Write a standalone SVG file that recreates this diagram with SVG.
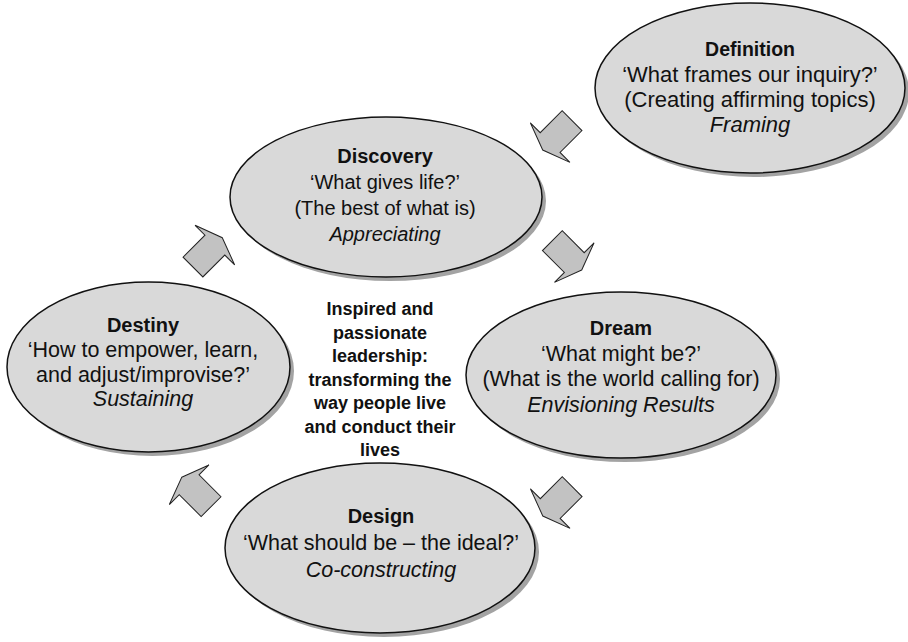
<svg xmlns="http://www.w3.org/2000/svg" width="908" height="642" viewBox="0 0 908 642">
<defs>
<style>
.sh{fill:#a3a3a3;stroke:none}
.el{fill:#d9d9d9;stroke:#111;stroke-width:1.5}
.t{font-family:"Liberation Sans",Arial,Helvetica,sans-serif;font-size:20px;fill:#111;text-anchor:middle}
.b{font-weight:bold}
.i{font-style:italic}
.c{font-family:"Liberation Sans",Arial,Helvetica,sans-serif;font-size:18px;font-weight:bold;fill:#111;text-anchor:middle}
.ar{fill:#c2c2c2;stroke:#222;stroke-width:1;stroke-linejoin:miter}
</style>
<path id="arrow" d="M0,0 L-10.5,28 L-10.5,14 L-41.5,14 L-41.5,-14 L-10.5,-14 L-10.5,-28 Z"/>
</defs>
<rect width="908" height="642" fill="#fff"/>
<g id="connectors">
<use href="#arrow" class="ar" transform="translate(542.7,150) rotate(135)"/>
<use href="#arrow" class="ar" transform="translate(581.7,270) rotate(45)"/>
<use href="#arrow" class="ar" transform="translate(542.8,516) rotate(135)"/>
<use href="#arrow" class="ar" transform="translate(181.7,477.3) rotate(-135)"/>
<use href="#arrow" class="ar" transform="translate(222.3,237.7) rotate(-45)"/>
</g>
<g id="definition">
<ellipse class="sh" cx="754" cy="92" rx="155" ry="85"/>
<ellipse class="el" cx="750" cy="88" rx="155" ry="85"/>
<text class="t b" x="750" y="56" style="font-size:19.5px">Definition</text>
<text class="t" x="750" y="82" style="font-size:22px">‘What frames our inquiry?’</text>
<text class="t" x="750" y="107" style="font-size:22px">(Creating affirming topics)</text>
<text class="t i" x="750" y="132" style="font-size:22px">Framing</text>
</g>
<g id="discovery">
<ellipse class="sh" cx="390" cy="201" rx="156" ry="80"/>
<ellipse class="el" cx="386" cy="197" rx="156" ry="80"/>
<text class="t b" x="385" y="163">Discovery</text>
<text class="t" x="385" y="189">‘What gives life?’</text>
<text class="t" x="385" y="215">(The best of what is)</text>
<text class="t i" x="385" y="241">Appreciating</text>
</g>
<g id="dream">
<ellipse class="sh" cx="625" cy="379" rx="155" ry="83"/>
<ellipse class="el" cx="621" cy="375" rx="155" ry="83"/>
<text class="t b" x="621" y="335">Dream</text>
<text class="t" x="621" y="361" style="font-size:21.5px">‘What might be?’</text>
<text class="t" x="621" y="386" style="font-size:21.5px">(What is the world calling for)</text>
<text class="t i" x="621" y="412" style="font-size:21.5px">Envisioning Results</text>
</g>
<g id="design">
<ellipse class="sh" cx="384" cy="552" rx="155" ry="85"/>
<ellipse class="el" cx="380" cy="548" rx="155" ry="85"/>
<text class="t b" x="381" y="523">Design</text>
<text class="t" x="381" y="550" style="font-size:21.5px">‘What should be – the ideal?’</text>
<text class="t i" x="381" y="577" style="font-size:21.5px">Co-constructing</text>
</g>
<g id="destiny">
<ellipse class="sh" cx="152.5" cy="371" rx="141.5" ry="85"/>
<ellipse class="el" cx="148.5" cy="367" rx="141.5" ry="85"/>
<text class="t b" x="143" y="332">Destiny</text>
<text class="t" x="143" y="357" style="font-size:21.5px">‘How to empower, learn,</text>
<text class="t" x="143" y="382" style="font-size:21.5px">and adjust/improvise?’</text>
<text class="t i" x="143" y="406" style="font-size:21.5px">Sustaining</text>
</g>
<g id="center">
<text class="c" x="380" y="315">Inspired and</text>
<text class="c" x="380" y="338.5">passionate</text>
<text class="c" x="380" y="362">leadership:</text>
<text class="c" x="380" y="385.5">transforming the</text>
<text class="c" x="380" y="409">way people live</text>
<text class="c" x="380" y="432.5">and conduct their</text>
<text class="c" x="380" y="456">lives</text>
</g>
</svg>
